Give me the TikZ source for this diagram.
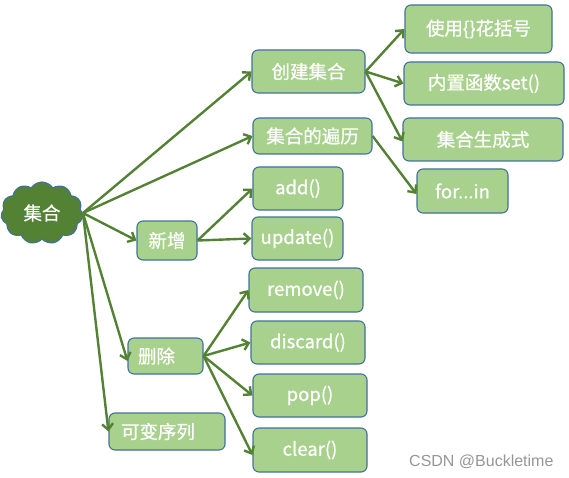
\documentclass[tikz,border=0pt]{standalone}
\usepackage{fontspec}
\newfontfamily\cjk[FakeBold=0.6]{Noto Sans CJK SC}
\newfontfamily\wmfont{Liberation Sans}
\usetikzlibrary{arrows.meta,shapes}
\definecolor{boxfill}{RGB}{169,209,142}
\definecolor{boxline}{RGB}{65,113,156}
\definecolor{arrowgreen}{RGB}{84,130,53}
\definecolor{wmgray}{RGB}{150,150,150}

\begin{document}
\begin{tikzpicture}[x=1pt,y=-1pt]
                \tikzstyle{box}=[draw=boxline, line width=1.1pt, fill=boxfill, rounded corners=6pt, text=white, font=\cjk\fontsize{18.5}{20}\selectfont, inner sep=0pt]
                \tikzstyle{myarrows}=[draw=arrowgreen, line width=2.4pt, -{Straight Barb[length=6pt,width=11pt,line width=2.4pt]}]
                \useasboundingbox (0,0) rectangle (569,478);

                \node[cloud, cloud puffs=11, cloud puff arc=115, aspect=1.35, draw=boxline, line width=1.1pt, fill=arrowgreen, text=white, font=\cjk\fontsize{18.5}{20}\selectfont, minimum width=82pt, minimum height=62pt, inner sep=0pt] (root) at (42,213) {集合};

                \node[box, minimum width=113pt, minimum height=43pt] (create) at (308.5,71.5) {创建集合};
                \node[box, minimum width=147pt, minimum height=48pt] (brace) at (478.5,29) {使用\{\}花括号};
                \node[box, minimum width=160pt, minimum height=43pt] (setfn) at (484,83.5) {内置函数set()};
                \node[box, minimum width=160pt, minimum height=43pt] (compr) at (483,139.5) {集合生成式};
                \node[box, minimum width=119pt, minimum height=36pt] (iter) at (312.5,136) {集合的遍历};
                \node[box, minimum width=91pt, minimum height=44pt] (forin) at (462.5,191) {for...in};
                \node[box, minimum width=60pt, minimum height=39pt] (addgrp) at (167,240.5) {新增};
                \node[box, minimum width=90pt, minimum height=43pt] (add) at (298,188.5) {add()};
                \node[box, minimum width=91pt, minimum height=43pt] (update) at (297.5,238.5) {update()};
                \node[box, minimum width=75pt, minimum height=36pt, align=left, text width=55pt, inner xsep=10pt] (delgrp) at (165.5,356) {删除};
                \node[box, minimum width=114pt, minimum height=44pt] (remove) at (306,290) {remove()};
                \node[box, minimum width=114pt, minimum height=43pt] (discard) at (308,342.5) {discard()};
                \node[box, minimum width=114pt, minimum height=43pt] (pop) at (310,395.5) {pop()};
                \node[box, minimum width=114pt, minimum height=44pt] (clear) at (310,450) {clear()};
                \node[box, minimum width=116pt, minimum height=37pt, align=left, text width=92pt, inner xsep=12pt] (mutable) at (167,431.5) {可变序列};

                \draw[myarrows] (root.east) -- (create.west);
                \draw[myarrows] (root.east) -- (iter.west);
                \draw[myarrows] (root.east) -- (addgrp.west);
                \draw[myarrows] (root.east) -- ([yshift=-5pt]delgrp.west);
                \draw[myarrows] (root.east) -- (mutable.west);

                \draw[myarrows] (create.east) -- (brace.west);
                \draw[myarrows] (create.east) -- (setfn.west);
                \draw[myarrows] (create.east) -- ([yshift=-2pt]compr.west);
                \draw[myarrows] (iter.east) -- ([yshift=-3pt]forin.west);

                \draw[myarrows] (addgrp.east) -- (add.west);
                \draw[myarrows] (addgrp.east) -- (update.west);

                \draw[myarrows] (delgrp.east) -- (remove.west);
                \draw[myarrows] (delgrp.east) -- (discard.west);
                \draw[myarrows] (delgrp.east) -- (pop.west);
                \draw[myarrows] (delgrp.east) -- ([yshift=-5pt]clear.west);

                \node[text=wmgray, font=\wmfont\fontsize{16}{18}\selectfont, anchor=west, inner sep=0pt] (mark) at (409,462) {CSDN @Buckletime};
\end{tikzpicture}
\end{document}
